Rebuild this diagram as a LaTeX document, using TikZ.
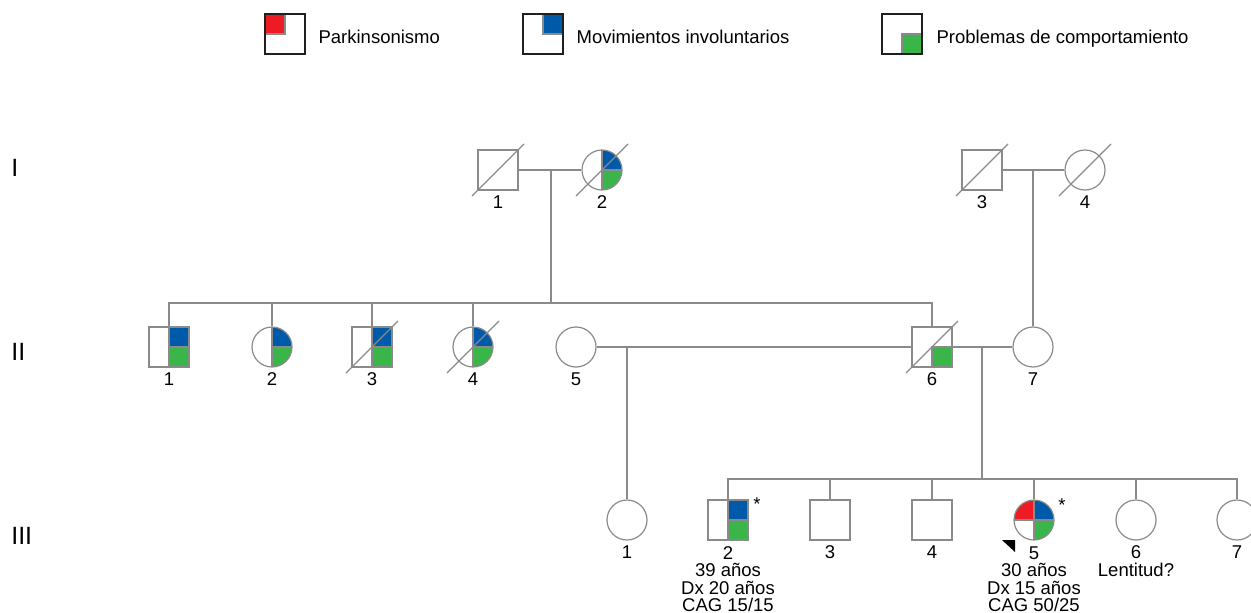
\documentclass[tikz,border=0pt]{standalone}
\usepackage{fontspec}
\setmainfont{Liberation Sans}
\definecolor{pedgray}{RGB}{138,138,138}
\definecolor{legdark}{RGB}{35,31,32}
\definecolor{pkred}{RGB}{237,28,36}
\definecolor{mvblue}{RGB}{0,90,170}
\definecolor{pcgreen}{RGB}{57,181,74}

\begin{document}
\begin{tikzpicture}[x=1pt, y=-1pt, line width=1.2pt, font=\fontsize{18.5}{17.5}\selectfont]
          \tikzstyle{male}=[rectangle, draw=pedgray, minimum size=40pt, inner sep=0pt]
          \tikzstyle{female}=[circle, draw=pedgray, minimum size=40pt, inner sep=0pt]
          \tikzstyle{legbox}=[rectangle, draw=legdark, line width=1.5pt, minimum size=40pt, inner sep=0pt, outer sep=0pt]
          \tikzstyle{link}=[draw=pedgray]
          \tikzstyle{lbl}=[anchor=base, align=center, inner sep=0pt]
          \tikzstyle{gen}=[anchor=base west, inner sep=0pt, font=\fontsize{25}{30}\selectfont]
          \tikzstyle{pk}=[path picture={\filldraw[draw=pedgray, fill=pkred] (path picture bounding box.center) rectangle (path picture bounding box.north west);}]
          \tikzstyle{mv}=[path picture={\filldraw[draw=pedgray, fill=mvblue] (path picture bounding box.center) rectangle (path picture bounding box.north east);}]
          \tikzstyle{pc}=[path picture={\filldraw[draw=pedgray, fill=pcgreen] (path picture bounding box.center) rectangle (path picture bounding box.south east);}]
          \tikzstyle{mvpc}=[path picture={
              \filldraw[draw=pedgray, fill=mvblue] (path picture bounding box.center) rectangle (path picture bounding box.north east);
              \filldraw[draw=pedgray, fill=pcgreen] (path picture bounding box.center) rectangle (path picture bounding box.south east);}]
          \tikzstyle{pkmvpc}=[path picture={
              \filldraw[draw=pedgray, fill=pkred] (path picture bounding box.center) rectangle (path picture bounding box.north west);
              \filldraw[draw=pedgray, fill=mvblue] (path picture bounding box.center) rectangle (path picture bounding box.north east);
              \filldraw[draw=pedgray, fill=pcgreen] (path picture bounding box.center) rectangle (path picture bounding box.south east);}]

          \useasboundingbox (0,0) rectangle (1251,613);

          % legend
          \node[legbox, pk] (leg1) at (285,34) {};
          \node[legbox, mv] (leg2) at (543,34) {};
          \node[legbox, pc] (leg3) at (902,34) {};
          \foreach \n in {leg1,leg2,leg3}
            \draw[legdark, line width=1.5pt] (\n.south west) rectangle (\n.north east);
          \node[anchor=base west, inner sep=0pt] (legt1) at (318,43) {Parkinsonismo};
          \node[anchor=base west, inner sep=0pt] (legt2) at (576,43) {Movimientos involuntarios};
          \node[anchor=base west, inner sep=0pt] (legt3) at (936,43) {Problemas de comportamiento};

          % generations
          \node[gen] (gI) at (10.7,176) {I};
          \node[gen] (gII) at (10.7,360) {II};
          \node[gen] (gIII) at (10.7,544) {III};

          \node[male] (I1) at (498,170) {};
          \node[female, mvpc] (I2) at (602,170) {};
          \node[male] (I3) at (982,170) {};
          \node[female] (I4) at (1085,170) {};

          \node[male, mvpc] (II1) at (169,347) {};
          \node[female, mvpc] (II2) at (272,347) {};
          \node[male, mvpc] (II3) at (372,347) {};
          \node[female, mvpc] (II4) at (473,347) {};
          \node[female] (II5) at (576,347) {};
          \node[male, pc] (II6) at (932,347) {};
          \node[female] (II7) at (1033,347) {};

          \node[female] (III1) at (627,520) {};
          \node[male, mvpc] (III2) at (728,520) {};
          \node[male] (III3) at (830,520) {};
          \node[male] (III4) at (932,520) {};
          \node[female, pkmvpc] (III5) at (1034,520) {};
          \node[female] (III6) at (1136,520) {};
          \node[female] (III7) at (1237,520) {};

          \coordinate (m1) at (551,170);
          \coordinate (s1) at (551,303);
          \coordinate (m2) at (1033,170);
          \coordinate (m3) at (627,347);
          \coordinate (m4) at (982,347);
          \coordinate (s4) at (982,479);

          \draw[link] (I1) -- (I2);
          \draw[link] (m1) -- (s1);
          \draw[link] (II1) |- (s1) -| (II6);
          \foreach \n in {II2,II3,II4}
            \draw[link] (\n) -- (\n |- s1);
          \draw[link] (I3) -- (I4);
          \draw[link] (m2) -- (II7);
          \draw[link] (II5) -- (II6);
          \draw[link] (m3) -- (III1);
          \draw[link] (II6) -- (II7);
          \draw[link] (m4) -- (s4);
          \draw[link] (III2) |- (s4) -| (III7);
          \foreach \n in {III3,III4,III5,III6}
            \draw[link] (\n) -- (\n |- s4);

          % deceased
          \foreach \n in {I1,I2,I3,I4,II3,II4,II6}
            \draw[link] ([shift={(-26pt,-26pt)}]\n.center) -- ([shift={(26pt,26pt)}]\n.center);

          % numbers (base = last line)
          \foreach \n/\t in {I1/1,I2/2,I3/3,I4/4,II1/1,II2/2,II3/3,II4/4,II5/5,II6/6,II7/7,III1/1,III3/3,III4/4,III7/7}
            \node[lbl] (n\n) at ([yshift=-38.5pt]\n.center) {\t};
          \node[lbl] (nIII2) at ([yshift=-91.5pt]III2.center) {2\\39 años\\Dx 20 años\\CAG 15/15};
          \node[lbl] (nIII5) at ([yshift=-91.5pt]III5.center) {5\\30 años\\Dx 15 años\\CAG 50/25};
          \node[lbl] (nIII6) at ([yshift=-56pt]III6.center) {6\\Lentitud?};

          \node[anchor=base, inner sep=0pt] (ast2) at (757,510) {*};
          \node[anchor=base, inner sep=0pt] (ast5) at (1062,511) {*};
          \fill[black] (1002,540) -- (1015,540) -- (1015,552) -- cycle;

        \end{tikzpicture}
\end{document}
